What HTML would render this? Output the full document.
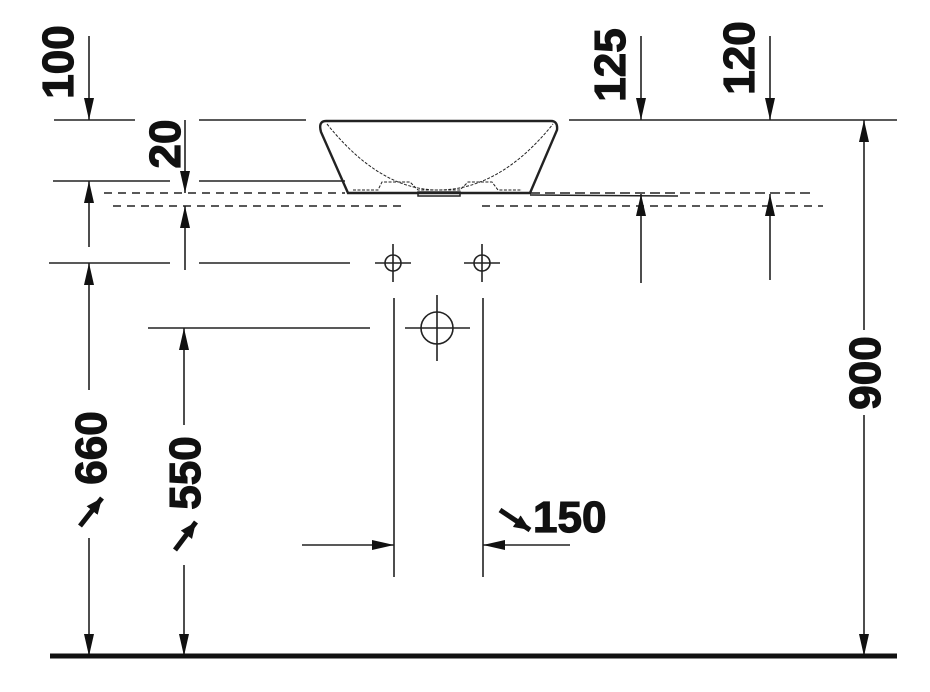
<!DOCTYPE html>
<html><head><meta charset="utf-8"><style>
html,body{margin:0;padding:0;background:#fff;}
svg{display:block;}
text{font-family:"Liberation Sans Narrow","Liberation Sans",sans-serif;font-weight:bold;fill:#111;stroke:#111;stroke-width:1.2;}
</style></head><body>
<svg width="930" height="692" viewBox="0 0 930 692" xmlns="http://www.w3.org/2000/svg">
<defs>
<marker id="a" viewBox="0 0 22 10" refX="22" refY="5" markerWidth="22" markerHeight="10" markerUnits="userSpaceOnUse" orient="auto">
<path d="M0,0 L22,5 L0,10 z" fill="#111"/></marker>
<marker id="b" viewBox="0 0 16 14" refX="16" refY="7" markerWidth="16" markerHeight="14" markerUnits="userSpaceOnUse" orient="auto">
<path d="M0,0 L16,7 L0,14 z" fill="#111"/></marker>
</defs>
<g stroke="#222" stroke-width="1.6" fill="none">
<line x1="54" y1="120" x2="135" y2="120"/>
<line x1="199" y1="120" x2="306" y2="120"/>
<line x1="569" y1="120" x2="897" y2="120"/>
<line x1="53" y1="181" x2="170" y2="181"/>
<line x1="199" y1="181" x2="345" y2="181"/>
<line x1="104" y1="193" x2="345" y2="193" stroke-dasharray="8,6"/>
<line x1="530" y1="193" x2="812" y2="193" stroke-dasharray="10,5"/>
<line x1="113" y1="206" x2="405" y2="206" stroke-dasharray="8,6"/>
<line x1="482" y1="206" x2="823" y2="206" stroke-dasharray="8,6"/>
<line x1="49" y1="263" x2="170" y2="263"/>
<line x1="199" y1="263" x2="350" y2="263"/>
<circle cx="393" cy="263" r="8"/>
<line x1="375" y1="263" x2="411" y2="263"/><line x1="393" y1="244" x2="393" y2="282"/>
<circle cx="482" cy="263" r="8"/>
<line x1="464" y1="263" x2="500" y2="263"/><line x1="482" y1="244" x2="482" y2="282"/>
<circle cx="437" cy="328" r="16"/>
<line x1="405" y1="328" x2="470" y2="328"/><line x1="437" y1="295" x2="437" y2="361"/>
<line x1="148" y1="328" x2="370" y2="328"/>
<line x1="394" y1="298" x2="394" y2="577"/>
<line x1="483" y1="298" x2="483" y2="577"/>
<path d="M326,121 L551,121 Q558,121 557,130 L530,193 L348,193 L321,132 Q318,121 326,121 Z" stroke-width="2.4"/>
<path d="M327,124 Q380,190 438,190 Q500,190 553,124" stroke-dasharray="3,1.5" stroke-width="1"/>
<path d="M353,190 L378,190 L382,182 L410,182 L418,190 L460,190 L468,182 L492,182 L498,190 L522,190" stroke-width="1" stroke-dasharray="3,1.5"/>
<rect x="418" y="192" width="42" height="4" stroke-width="1.5"/>
<line x1="530" y1="195" x2="678" y2="196" stroke-width="1.5"/>
<line x1="89" y1="36" x2="89" y2="120" marker-end="url(#a)"/>
<line x1="89" y1="247" x2="89" y2="181" marker-end="url(#a)"/>
<line x1="89" y1="390" x2="89" y2="263" marker-end="url(#a)"/>
<line x1="89" y1="538" x2="89" y2="656" marker-end="url(#a)"/>
<line x1="185" y1="120" x2="185" y2="193" marker-end="url(#a)"/>
<line x1="185" y1="270" x2="185" y2="206" marker-end="url(#a)"/>
<line x1="184" y1="425" x2="184" y2="328" marker-end="url(#a)"/>
<line x1="184" y1="565" x2="184" y2="656" marker-end="url(#a)"/>
<line x1="641" y1="36" x2="641" y2="120" marker-end="url(#a)"/>
<line x1="770" y1="36" x2="770" y2="120" marker-end="url(#a)"/>
<line x1="641" y1="283" x2="641" y2="194" marker-end="url(#a)"/>
<line x1="770" y1="280" x2="770" y2="194" marker-end="url(#a)"/>
<line x1="864" y1="330" x2="864" y2="120" marker-end="url(#a)"/>
<line x1="864" y1="415" x2="864" y2="656" marker-end="url(#a)"/>
<line x1="302" y1="545" x2="394" y2="545" marker-end="url(#a)"/>
<line x1="570" y1="545" x2="483" y2="545" marker-end="url(#a)"/>
<line x1="80" y1="526" x2="102" y2="498" stroke-width="5" stroke="#111" marker-end="url(#b)"/>
<line x1="175" y1="550" x2="196" y2="522" stroke-width="5" stroke="#111" marker-end="url(#b)"/>
<line x1="500" y1="510" x2="530" y2="530" stroke-width="5" stroke="#111" marker-end="url(#b)"/>
</g>
<line x1="50" y1="656" x2="897" y2="656" stroke="#111" stroke-width="5"/>
<g font-size="44">
<text transform="translate(73,62) rotate(-90)" text-anchor="middle">100</text>
<text transform="translate(180,144) rotate(-90)" text-anchor="middle">20</text>
<text transform="translate(625,65) rotate(-90)" text-anchor="middle">125</text>
<text transform="translate(754,58) rotate(-90)" text-anchor="middle">120</text>
<text transform="translate(880,373) rotate(-90)" text-anchor="middle">900</text>
<text transform="translate(106,448) rotate(-90)" text-anchor="middle">660</text>
<text transform="translate(200,473) rotate(-90)" text-anchor="middle">550</text>
<text x="533" y="532">150</text>
</g>
</svg>
</body></html>
